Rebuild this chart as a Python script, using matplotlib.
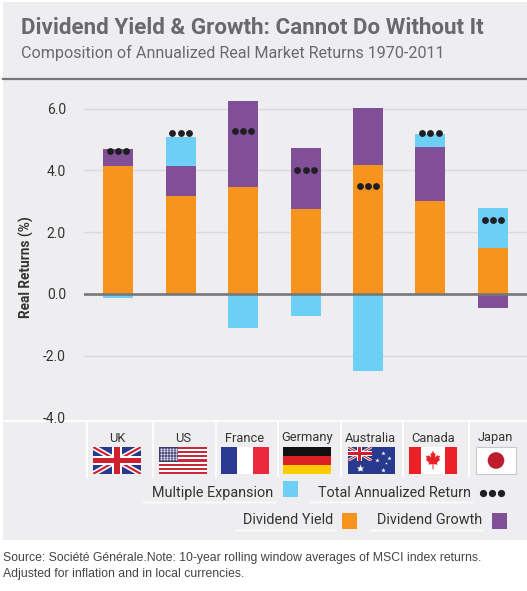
import matplotlib
matplotlib.use("Agg")
import matplotlib.pyplot as plt
from matplotlib.patches import Rectangle, Polygon, Circle
from matplotlib.lines import Line2D
import numpy as np

# ---------------- data ----------------
countries = ["UK", "US", "France", "Germany", "Australia", "Canada", "Japan"]
dividend_yield = [4.14, 3.17, 3.46, 2.75, 4.17, 3.01, 1.49]
dividend_growth = [0.55, 0.97, 2.79, 1.97, 1.85, 1.75, -0.44]
multiple_expansion = [-0.12, 0.95, -1.09, -0.73, -2.48, 0.42, 1.29]
total_return = [4.64, 5.21, 5.27, 4.00, 3.49, 5.20, 2.39]
yticks = [-4.0, -2.0, 0.0, 2.0, 4.0, 6.0]
ytick_labels = ["-4.0", "-2.0", "0.0", "2.0", "4.0", "6.0"]

title = "Dividend Yield & Growth: Cannot Do Without It"
subtitle = "Composition of Annualized Real Market Returns 1970-2011"
footnote = ["Source: Société Générale.Note: 10-year rolling window averages of MSCI index returns.",
            "Adjusted for inflation and in local currencies."]

C_YIELD = "#F7941E"
C_GROWTH = "#814F95"
C_EXP = "#6DCFF5"
C_DOT = "#1E1E24"
BG = "#EEEEF0"

W, H = 527, 591
fig = plt.figure(figsize=(W / 100, H / 100), dpi=100)
fig.patch.set_facecolor("white")

# background axes in pixel coordinates
bg = fig.add_axes([0, 0, 1, 1], zorder=0)
bg.set_xlim(0, W)
bg.set_ylim(H, 0)
bg.axis("off")
bg.add_patch(Rectangle((3, 2), W - 3, 538, facecolor=BG, edgecolor="none"))
bg.add_line(Line2D([3, W], [79, 79], color="#77777A", lw=1.6))

FONT = ["Roboto", "DejaVu Sans"]
t_title = bg.text(21, 28, title, fontsize=17, fontweight="bold", color="#69696C",
                  family=FONT, va="center", ha="left")
t_sub = bg.text(21, 53, subtitle, fontsize=11.5, color="#6A6A6D",
                family=FONT, va="center", ha="left")

# main chart axes
ax_left, ax_right = 84, W
ax_top, ax_bot = 94, 420
ax = fig.add_axes([ax_left / W, 1 - ax_bot / H, (ax_right - ax_left) / W, (ax_bot - ax_top) / H],
                  zorder=1)
ax.patch.set_alpha(0)
x = np.arange(len(countries))
ax.set_xlim(-0.544, -0.544 + (ax_right - ax_left) / 62.5)
ax.set_ylim(-4.08, 6.47)
for s in ax.spines.values():
    s.set_visible(False)
ax.set_xticks([])
ax.set_yticks(yticks)
ax.set_yticklabels(ytick_labels, family=FONT, fontsize=10, color="#333333")
ax.tick_params(axis="y", length=0, pad=13)
for v in yticks:
    if v not in (0.0, -4.0):
        ax.axhline(v, color="#D9D9DC", lw=1.0, zorder=0)

bw = 0.48
pos_b = np.zeros(len(countries))
neg_b = np.zeros(len(countries))
for vals, col in [(dividend_yield, C_YIELD), (dividend_growth, C_GROWTH), (multiple_expansion, C_EXP)]:
    vals = np.array(vals)
    bottoms = np.where(vals >= 0, pos_b, neg_b)
    ax.bar(x, vals, bw, bottom=bottoms, color=col, zorder=2, linewidth=0)
    pos_b = pos_b + np.where(vals >= 0, vals, 0)
    neg_b = neg_b + np.where(vals < 0, vals, 0)

ax.axhline(0, color="#77777A", lw=1.9, zorder=3)
for off in (-0.135, 0.0, 0.135):
    ax.plot(x + off, total_return, "o", color=C_DOT, ms=3.9, zorder=4, linestyle="none")

ax.set_ylabel("Real Returns (%)", family=FONT, fontsize=9.8, fontweight="bold", color="#333333")
ax.yaxis.set_label_coords((34 - ax_left) / (ax_right - ax_left), (ax_bot - 267) / (ax_bot - ax_top))

# table area
bg.add_line(Line2D([3, W], [421, 421], color="white", lw=1.2))
for sx in [87, 153, 216, 278, 341, 403, 469]:
    bg.add_line(Line2D([sx, sx], [421, 477], color="white", lw=1.2))

centers = [117, 183, 245, 307, 370, 433, 495]
for c, name in zip(centers, countries):
    bg.text(c, 441.5, name, ha="center", va="baseline", fontsize=9.3, family=FONT, color="#333333")

FY0, FY1 = 447, 474
fh = FY1 - FY0


def union_jack(x0, y0, w, h, zo=5):
    bg.add_patch(Rectangle((x0, y0), w, h, facecolor="#283A8E", edgecolor="none", zorder=zo))
    clip = Rectangle((x0, y0), w, h, transform=bg.transData)
    for (a, b) in [((x0, y0), (x0 + w, y0 + h)), ((x0, y0 + h), (x0 + w, y0))]:
        l1 = Line2D([a[0], b[0]], [a[1], b[1]], color="white", lw=h * 0.2 * 0.72, zorder=zo + 1)
        l2 = Line2D([a[0], b[0]], [a[1], b[1]], color="#D0202E", lw=h * 0.08 * 0.72, zorder=zo + 2)
        for l in (l1, l2):
            bg.add_line(l)
            l.set_clip_path(clip)
    bg.add_patch(Rectangle((x0 + w * 0.5 - h * 0.17, y0), h * 0.34, h, facecolor="white", zorder=zo + 3))
    bg.add_patch(Rectangle((x0, y0 + h * 0.33), w, h * 0.34, facecolor="white", zorder=zo + 3))
    bg.add_patch(Rectangle((x0 + w * 0.5 - h * 0.1, y0), h * 0.2, h, facecolor="#D0202E", zorder=zo + 4))
    bg.add_patch(Rectangle((x0, y0 + h * 0.4), w, h * 0.2, facecolor="#D0202E", zorder=zo + 4))


# UK
union_jack(93, FY0, 48, fh)
# US
ux0, uw = 159, 48
for i in range(13):
    bg.add_patch(Rectangle((ux0, FY0 + i * fh / 13), uw, fh / 13,
                           facecolor="#C8283A" if i % 2 == 0 else "white", edgecolor="none", zorder=5))
bg.add_patch(Rectangle((ux0, FY0), uw * 0.4, fh * 7 / 13, facecolor="#3C3B6E", zorder=6))
for r in range(5):
    for cc in range(6):
        bg.plot(ux0 + 1.6 + cc * 3.0, FY0 + 1.6 + r * 2.7, "s", ms=0.6, color="#D8D8E8", zorder=7)
# France
fx0 = 221
for i, col in enumerate(["#2B3990", "white", "#EC283E"]):
    bg.add_patch(Rectangle((fx0 + i * 16, FY0), 16, fh, facecolor=col, zorder=5))
# Germany
gx0 = 283
for i, col in enumerate(["#111111", "#DD1F26", "#FFCC00"]):
    bg.add_patch(Rectangle((gx0, FY0 + i * fh / 3), 48, fh / 3, facecolor=col, zorder=5))
# Australia
ax0 = 348
bg.add_patch(Rectangle((ax0, FY0), 47, fh, facecolor="#283A8E", zorder=5))
union_jack(ax0, FY0, 23.5, fh / 2, zo=6)
for (sx, sy, ms) in [(ax0 + 12, FY0 + 21, 6), (ax0 + 35, FY0 + 6, 3.2), (ax0 + 29, FY0 + 13, 3.2),
                     (ax0 + 41, FY0 + 11, 3.2), (ax0 + 35, FY0 + 23, 3.5), (ax0 + 38, FY0 + 16, 2)]:
    bg.plot(sx, sy, "*", ms=ms, color="white", mec="none", zorder=12)
# Canada
cx0 = 409
bg.add_patch(Rectangle((cx0, FY0), 48, fh, facecolor="#EC2027", zorder=5))
bg.add_patch(Rectangle((cx0 + 12, FY0), 24, fh, facecolor="white", zorder=6))
leaf = np.array([(0, 1.0), (0.12, 0.75), (0.25, 0.82), (0.2, 0.45), (0.45, 0.65), (0.5, 0.55),
                 (0.72, 0.6), (0.6, 0.35), (0.72, 0.3), (0.4, 0.05), (0.45, -0.1), (0.05, -0.05),
                 (0.05, -0.45), (-0.05, -0.45), (-0.05, -0.05), (-0.45, -0.1), (-0.4, 0.05),
                 (-0.72, 0.3), (-0.6, 0.35), (-0.72, 0.6), (-0.5, 0.55), (-0.45, 0.65), (-0.2, 0.45),
                 (-0.25, 0.82), (-0.12, 0.75)])
lx = cx0 + 24 + leaf[:, 0] * 10
ly = FY0 + fh * 0.5 - 0.6 - (leaf[:, 1] - 0.27) * 13
bg.add_patch(Polygon(np.column_stack([lx, ly]), closed=True, facecolor="#EC2027", edgecolor="none", zorder=7))
# Japan
jx0 = 476
bg.add_patch(Rectangle((jx0, FY0), 40, fh, facecolor="white", edgecolor="#C8C8CC", lw=0.8, zorder=5))
bg.add_patch(Circle((jx0 + 20, FY0 + fh / 2), 8.3, facecolor="#BC1E2D", edgecolor="none", zorder=6))

# legend
LT = dict(fontsize=10, family=FONT, color="#333333", va="center")
l1 = bg.text(273, 493, "Multiple Expansion", ha="right", **LT)
bg.add_patch(Rectangle((283, 481), 15, 16, facecolor=C_EXP, zorder=5))
l2 = bg.text(471, 493, "Total Annualized Return", ha="right", **LT)
for dx in (483, 492, 501):
    bg.plot(dx, 493, "o", ms=4.2, color=C_DOT, zorder=6)
l3 = bg.text(333, 520, "Dividend Yield", ha="right", **LT)
bg.add_patch(Rectangle((342, 513), 15, 16, facecolor=C_YIELD, zorder=5))
l4 = bg.text(482, 520, "Dividend Growth", ha="right", **LT)
bg.add_patch(Rectangle((492, 513), 15, 16, facecolor=C_GROWTH, zorder=5))
for (a, b, yy) in [(143, 275, 502), (310, 472, 502), (235, 335, 530), (370, 483, 530)]:
    bg.add_line(Line2D([a, b], [yy, yy], color="white", lw=1.0))

FN = ["Liberation Sans Narrow", "Liberation Sans", "DejaVu Sans"]
f1 = bg.text(3, 558, footnote[0], fontsize=10, family=FN, color="#444444", va="center", ha="left")
f2 = bg.text(3, 574, footnote[1], fontsize=10, family=FN, color="#444444", va="center", ha="left")

# fit text widths
fig.canvas.draw()
r = fig.canvas.get_renderer()
for t, wpx in [(t_title, 463), (t_sub, 427), (l1, 121), (l2, 152), (l3, 90), (l4, 105), (f1, 480)]:
    w = t.get_window_extent(r).width
    t.set_fontsize(t.get_fontsize() * wpx / w)
f2.set_fontsize(f1.get_fontsize())

fig.savefig("out.png", dpi=100, facecolor="white")
